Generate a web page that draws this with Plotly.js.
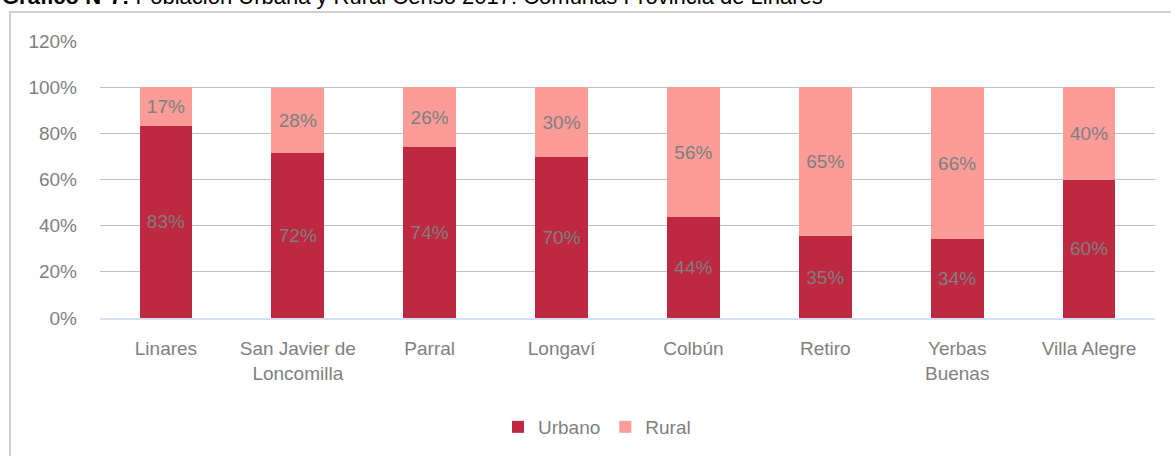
<!DOCTYPE html>
<html>
<head>
<meta charset="utf-8">
<script src="https://cdn.plot.ly/plotly-3.0.1.min.js"></script>
<style>
html,body{margin:0;padding:0;background:#fff;}
#chart{width:1171px;height:456px;}
</style>
</head>
<body>
<div id="chart"></div>
<script>
const comunas = ["Linares", "San Javier de<br>Loncomilla", "Parral", "Longaví", "Colbún", "Retiro", "Yerbas<br>Buenas", "Villa Alegre"];
const urbano = [83.2, 71.6, 74.1, 69.8, 43.7, 35.4, 34.2, 59.9];
const rural = [16.8, 27.9, 25.9, 30.2, 56.3, 64.6, 65.8, 40.1];
const yTicks = [0, 20, 40, 60, 80, 100, 120];
const chartTitle = "<b>Gráfico N°7:</b> Población Urbana y Rural Censo 2017: Comunas Provincia de Linares";

const FONT = '"Liberation Sans", Arial, sans-serif';
const GRAY = '#7f7f7f';

const W = 1171, H = 456;
const L = 100, R = 16, T = 41, B = 137;
const pw = W - L - R, ph = H - T - B;
const px = x => (x - L) / pw;
const py = y => (H - B - y) / ph;

const common = {
  type: 'bar',
  x: comunas,
  texttemplate: '%{y:.0f}%',
  textposition: 'inside',
  insidetextanchor: 'middle',
  textangle: 0,
  constraintext: 'none',
  textfont: {family: FONT, size: 19, color: GRAY},
  hoverinfo: 'skip'
};

const data = [
  Object.assign({}, common, {name: 'Urbano', y: urbano, marker: {color: '#be2841'}}),
  Object.assign({}, common, {name: 'Rural', y: rural, marker: {color: '#fb9c98'}})
];

const layout = {
  width: W, height: H,
  margin: {l: L, r: R, t: T, b: B, pad: 0},
  barmode: 'stack',
  bargap: 0.6,
  paper_bgcolor: '#fff',
  plot_bgcolor: '#fff',
  font: {family: FONT, size: 19, color: GRAY},
  showlegend: true,
  legend: {
    orientation: 'h',
    x: px(597), xanchor: 'center',
    y: py(427), yanchor: 'middle',
    font: {family: FONT, size: 19, color: GRAY},
    traceorder: 'normal',
    itemwidth: 30
  },
  xaxis: {
    type: 'category',
    showgrid: false,
    showline: true,
    linecolor: '#d6e0f0',
    linewidth: 1.5,
    ticks: '',
    ticklabelstandoff: 13,
    tickfont: {family: FONT, size: 19, color: GRAY},
    fixedrange: true
  },
  yaxis: {
    range: [0, 120],
    tickvals: yTicks,
    ticktext: yTicks.map(v => v + '%'),
    showgrid: true,
    gridcolor: '#c0c0c0',
    gridwidth: 1.2,
    zeroline: false,
    showline: false,
    ticks: '',
    ticklabelstandoff: 22,
    tickfont: {family: FONT, size: 19, color: GRAY},
    fixedrange: true
  },
  shapes: [{
    type: 'rect', xref: 'paper', yref: 'paper', layer: 'below',
    x0: px(10), x1: px(1300), y0: py(600), y1: py(12),
    line: {color: '#cfcfcf', width: 2}, fillcolor: 'rgba(0,0,0,0)'
  }],
  annotations: [{
    xref: 'paper', yref: 'paper',
    x: px(0), xanchor: 'left',
    y: py(11), yanchor: 'bottom',
    text: chartTitle,
    showarrow: false,
    font: {family: FONT, size: 22, color: '#000'}
  }]
};

Plotly.newPlot('chart', data, layout, {displayModeBar: false, staticPlot: true});
</script>
</body>
</html>
